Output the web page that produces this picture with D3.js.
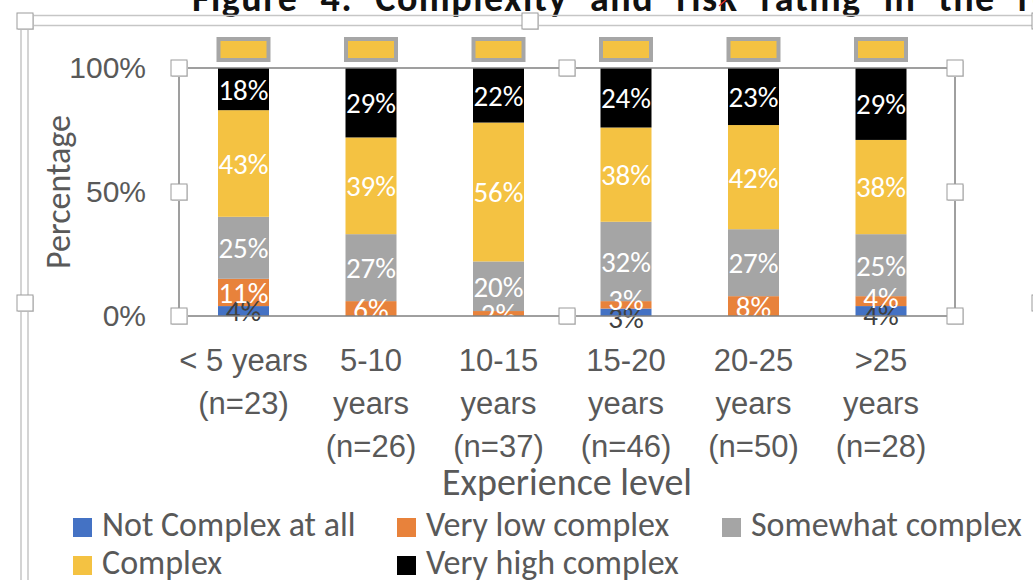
<!DOCTYPE html>
<html>
<head>
<meta charset="utf-8">
<script src="https://cdn.jsdelivr.net/npm/d3@7"></script>
<style>
    body { margin: 0; background: #fff; }
    svg { display: block; font-family: Carlito, Calibri, Lato, sans-serif; }
</style>
</head>
<body>
<svg width="1033" height="580"></svg>
<script>
// chart data
const categories = ["< 5 years (n=23)", "5-10 years (n=26)", "10-15 years (n=37)",
    "15-20 years (n=46)", "20-25 years (n=50)", ">25 years (n=28)"];
const seriesNames = ["Not Complex at all", "Very low complex", "Somewhat complex", "Complex", "Very high complex"];
const notComplex = [4, 0, 0, 3, 0, 4];
const veryLow = [11, 6, 2, 3, 8, 4];
const somewhat = [25, 27, 20, 32, 27, 25];
const complex = [43, 39, 56, 38, 42, 38];
const veryHigh = [18, 29, 22, 24, 23, 29];
const yTicks = [0, 0.5, 1];
const colors = ["#4472c4", "#e8823b", "#a5a5a5", "#f4c242", "#000000"];

let svg = d3.select("svg");
let textColor = "#595959";

// build rows for the stack
let columns = [notComplex, veryLow, somewhat, complex, veryHigh];
let rows = categories.map((c, i) => {
    let r = {category: c};
    seriesNames.forEach((s, k) => r[s] = columns[k][i] / 100);
    return r;
});
let stacked = d3.stack().keys(seriesNames)(rows);

let plot = {left: 179, right: 955, top: 68, bottom: 316};

let x = d3.scaleBand()
    .domain(categories)
    .range([179.75, 944.75])
    .paddingInner(0.6)
    .paddingOuter(0.3);

let y = d3.scaleLinear()
    .domain([0, 1])
    .range([plot.bottom, plot.top]);

//////////// TITLE (cut off at the top) ////////////
svg.append("text")
    .attr("x", 192)
    .attr("y", 11)
    .attr("font-size", 38)
    .attr("font-weight", "bold")
    .attr("fill", "#111")
    .attr("letter-spacing", 1.5)
    .attr("word-spacing", 12)
    .text("Figure 4: Complexity and risk rating in the respective");
svg.append("line")
    .attr("x1", 719).attr("y1", 6).attr("x2", 726).attr("y2", 0)
    .attr("stroke", "#e0302a").attr("stroke-width", 1.5);

// outer chart frame (selected state)
let frame = svg.append("g").attr("stroke", "#c6c6c6").attr("stroke-width", 1.5);
frame.append("line").attr("x1", 21).attr("x2", 1033).attr("y1", 15.5).attr("y2", 15.5);
frame.append("line").attr("x1", 28).attr("x2", 1033).attr("y1", 25.5).attr("y2", 25.5);
frame.append("line").attr("x1", 21).attr("x2", 21).attr("y1", 15).attr("y2", 580);
frame.append("line").attr("x1", 28).attr("x2", 28).attr("y1", 25).attr("y2", 580);

//////////// BARS ////////////
svg.append("defs").append("clipPath").attr("id", "plotClip")
    .append("rect")
    .attr("x", plot.left).attr("y", plot.top)
    .attr("width", plot.right - plot.left).attr("height", plot.bottom - plot.top);

let gBars = svg.append("g").attr("clip-path", "url(#plotClip)");
gBars.selectAll("g")
    .data(stacked)
    .enter().append("g")
    .attr("fill", (d, i) => colors[i])
    .selectAll("rect")
    .data(d => d)
    .enter().append("rect")
    .attr("x", d => x(d.data.category))
    .attr("width", x.bandwidth())
    .attr("y", d => y(Math.min(d[1], 1)))
    .attr("height", d => y(d[0]) - y(Math.min(d[1], 1)));

//////////// DATA LABELS ////////////
let labels = [];
stacked.forEach((s, k) => {
    s.forEach((d, i) => {
        let v = d[1] - d[0];
        if (v <= 0) return;
        labels.push({
            k, i,
            text: Math.round(v * 100) + "%",
            cx: x(d.data.category) + x.bandwidth() / 2,
            cy: (y(d[0]) + y(Math.min(d[1], 1))) / 2
        });
    });
});
// push apart labels that sit on top of each other (like excel does)
categories.forEach((c, i) => {
    let inBar = labels.filter(l => l.i === i).sort((a, b) => b.cy - a.cy);
    for (let j = 1; j < inBar.length; j++) {
        let a = inBar[j - 1], b = inBar[j];
        let gap = a.cy - b.cy;
        if (gap < 17.5) {
            let mid = (a.cy + b.cy) / 2;
            a.cy = mid + 8.75;
            b.cy = mid - 8.75;
        }
    }
});

svg.append("g")
    .attr("text-anchor", "middle")
    .attr("font-size", 29)
    .selectAll("text")
    .data(labels)
    .enter().append("text")
    .attr("x", d => d.cx)
    .attr("y", d => d.cy)
    .attr("dy", "0.36em")
    .attr("fill", d => d.k === 0 ? "#404040" : "#ffffff")
    .text(d => d.text);

// grey-framed boxes above each bar
svg.append("g")
    .selectAll("rect")
    .data(categories)
    .enter().append("rect")
    .attr("x", d => x(d) + x.bandwidth() / 2 - 25)
    .attr("y", y(1) - 29)
    .attr("width", 50)
    .attr("height", 21)
    .attr("fill", "#f4c242")
    .attr("stroke", "#a6a6a6")
    .attr("stroke-width", 4);

//////////// AXES ////////////
let yAxis = svg.append("g")
    .attr("transform", `translate(${plot.left},0)`)
    .call(d3.axisLeft(y).tickValues(yTicks).tickFormat(d3.format(".0%")).tickSize(0).tickPadding(33));
yAxis.select(".domain").remove();
yAxis.selectAll("text")
    .attr("font-family", null)
    .attr("font-size", 30)
    .attr("fill", textColor);

let xAxis = svg.append("g")
    .attr("transform", `translate(0,${plot.bottom})`)
    .call(d3.axisBottom(x).tickSize(0));
xAxis.select(".domain").remove();
xAxis.selectAll("text")
    .attr("font-family", null)
    .attr("font-size", 31)
    .attr("fill", textColor)
    .call(wrap, x.step() + 8);

function wrap(texts, maxWidth) {
    texts.each(function () {
        let text = d3.select(this);
        let words = text.text().split(" ");
        text.text(null).attr("dy", null).attr("y", null);
        let lines = [], line = [];
        let probe = text.append("tspan");
        words.forEach(w => {
            line.push(w);
            probe.text(line.join(" "));
            if (probe.node().getComputedTextLength() > maxWidth && line.length > 1) {
                line.pop();
                lines.push(line.join(" "));
                line = [w];
            }
        });
        lines.push(line.join(" "));
        probe.remove();
        lines.forEach((l, j) => {
            text.append("tspan")
                .attr("x", 0)
                .attr("y", 55 + j * 43)
                .text(l);
        });
    });
}

// axis titles
svg.append("text")
    .attr("transform", `translate(70,${(plot.top + plot.bottom) / 2}) rotate(-90)`)
    .attr("text-anchor", "middle")
    .attr("font-size", 34)
    .attr("fill", textColor)
    .text("Percentage");

svg.append("text")
    .attr("x", (plot.left + plot.right) / 2)
    .attr("y", 495)
    .attr("text-anchor", "middle")
    .attr("font-size", 38)
    .attr("fill", textColor)
    .text("Experience level");

//////////// LEGEND ////////////
let colX = [73, 397, 722], rowY = [518, 556];
let legend = svg.append("g")
    .selectAll("g")
    .data(seriesNames)
    .enter().append("g")
    .attr("transform", (d, i) => `translate(${colX[i % 3]},${rowY[Math.floor(i / 3)]})`);
legend.append("rect")
    .attr("width", 19)
    .attr("height", 19)
    .attr("fill", (d, i) => colors[i]);
legend.append("text")
    .attr("x", 29)
    .attr("y", 18)
    .attr("font-size", 34)
    .attr("fill", textColor)
    .text(d => d);

//////////// PLOT AREA FRAME + HANDLES ////////////
svg.append("rect")
    .attr("x", plot.left).attr("y", plot.top)
    .attr("width", plot.right - plot.left).attr("height", plot.bottom - plot.top)
    .attr("fill", "none")
    .attr("stroke", "#808080")
    .attr("stroke-width", 1.5);

let midX = (plot.left + plot.right) / 2, midY = (plot.top + plot.bottom) / 2;
let handles = [
    [plot.left, plot.top], [midX, plot.top], [plot.right, plot.top],
    [plot.left, midY], [plot.right, midY],
    [plot.left, plot.bottom], [midX, plot.bottom], [plot.right, plot.bottom],
    [25, 21], [530, 21], [1040, 21], [25, 303], [1040, 303]
];
let gHandles = svg.append("g");
gHandles.selectAll("rect.shadow")
    .data(handles)
    .enter().append("rect")
    .attr("class", "shadow")
    .attr("x", d => d[0] - 7).attr("y", d => d[1] - 7)
    .attr("width", 16).attr("height", 16)
    .attr("fill", "#d8d8d8");
gHandles.selectAll("rect.handle")
    .data(handles)
    .enter().append("rect")
    .attr("class", "handle")
    .attr("x", d => d[0] - 8).attr("y", d => d[1] - 8)
    .attr("width", 16).attr("height", 16)
    .attr("fill", "#fff")
    .attr("stroke", "#9c9c9c")
    .attr("stroke-width", 1);
</script>
</body>
</html>
